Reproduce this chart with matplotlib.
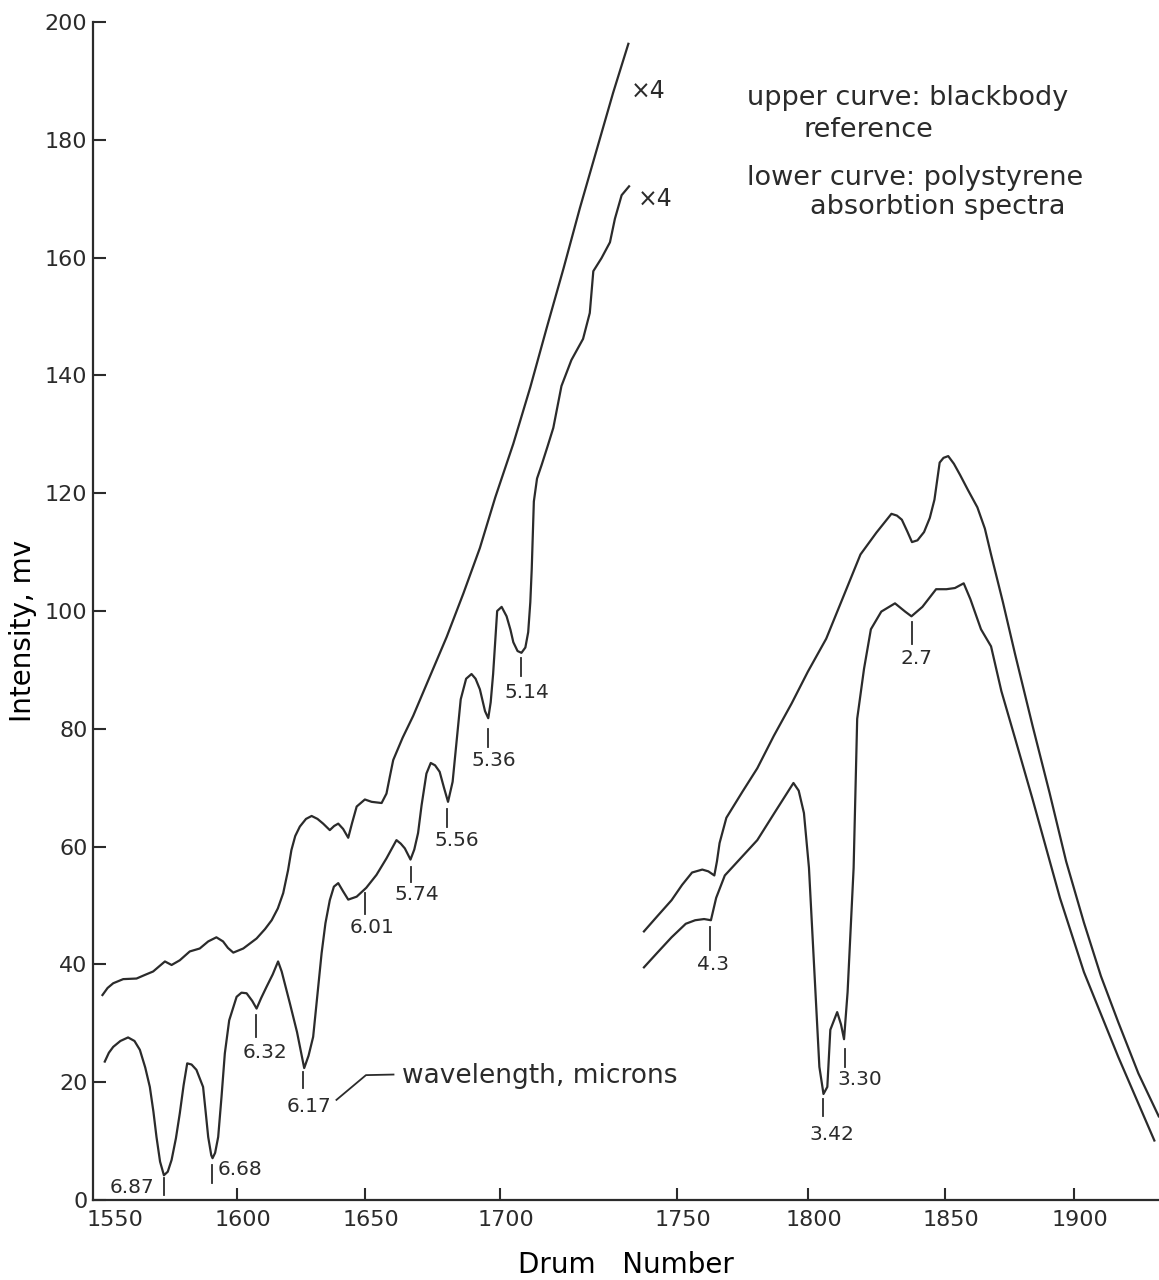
import numpy as np
import matplotlib
matplotlib.use("Agg")
import matplotlib.pyplot as plt
import matplotlib.transforms as mtransforms

# drum numbers / intensity (mv)
upper_left_x = [1547.5, 1549.5, 1551.7, 1555.6, 1560.8, 1564.0, 1567.3, 1570.0, 1571.9, 1574.5,
                1577.7, 1581.6, 1585.5, 1588.8, 1592.0, 1594.6, 1596.5, 1598.6, 1602.5, 1607.7,
                1611.0, 1613.6, 1616.0, 1618.1, 1620.0, 1621.3, 1622.8, 1624.6, 1627.0, 1629.2,
                1631.5, 1633.7, 1636.3, 1638.0, 1639.6, 1641.5, 1643.5, 1645.0, 1646.8, 1650.0,
                1652.5, 1656.2, 1658.0, 1659.3, 1660.5, 1664.0, 1667.9, 1674.0, 1680.3, 1686.5,
                1692.6, 1698.3, 1703.8, 1708.6, 1713.2, 1718.0, 1722.6, 1727.3, 1732.0, 1736.3]
upper_left_y = [34.8, 36.0, 36.8, 37.5, 37.6, 38.2, 38.8, 39.8, 40.5, 39.9,
                40.7, 42.2, 42.7, 43.9, 44.6, 43.9, 42.8, 42.0, 42.7, 44.4,
                46.0, 47.5, 49.5, 52.1, 56.0, 59.4, 61.8, 63.4, 64.7, 65.2,
                64.7, 63.9, 62.8, 63.5, 63.9, 63.0, 61.5, 64.0, 66.8, 68.0,
                67.6, 67.4, 69.0, 72.0, 74.7, 78.5, 82.2, 88.8, 95.6, 103.0,
                110.7, 119.3, 128.4, 138.0, 148.0, 158.2, 168.4, 178.2, 188.0, 196.3]

lower_left_x = [1548.4, 1550.0, 1551.7, 1554.5, 1557.5, 1560.0, 1562.1, 1564.2, 1566.0, 1567.4,
                1568.6, 1570.0, 1571.5, 1573.0, 1574.5, 1576.2, 1577.7, 1579.2, 1580.6, 1582.3,
                1584.2, 1586.8, 1587.8, 1588.8, 1590.0, 1590.5, 1591.5, 1592.7, 1594.0, 1595.3,
                1597.0, 1599.9, 1601.8, 1603.8, 1606.0, 1607.7, 1609.5, 1611.6, 1614.0, 1616.1,
                1617.5, 1620.7, 1623.5, 1626.3, 1628.0, 1629.8, 1631.5, 1633.1, 1634.6, 1636.3,
                1637.9, 1639.6, 1641.5, 1643.5, 1646.8, 1650.5, 1654.3, 1658.0, 1661.7, 1663.3,
                1664.8, 1666.9, 1668.3, 1669.7, 1671.0, 1672.8, 1674.4, 1676.0, 1677.7, 1679.3,
                1680.8, 1682.5, 1684.0, 1685.5, 1687.5, 1689.5, 1691.0, 1692.6, 1694.5, 1695.7,
                1696.6, 1697.5, 1698.3, 1699.0, 1700.5, 1701.9, 1703.0, 1703.8, 1705.0, 1706.1,
                1707.2, 1708.0, 1708.6, 1709.0, 1709.6, 1710.5, 1711.8, 1713.5, 1715.1, 1717.4,
                1720.2, 1723.5, 1725.4, 1726.4, 1728.7, 1731.1, 1732.5, 1734.4, 1736.5]
lower_left_y = [23.5, 25.0, 26.0, 27.0, 27.6, 27.0, 25.5, 22.5, 19.2, 15.0,
                10.7, 6.5, 4.2, 4.8, 6.8, 10.5, 14.7, 19.5, 23.2, 23.0,
                22.1, 19.2, 15.0, 10.7, 7.6, 7.1, 8.0, 10.7, 17.5, 24.9,
                30.5, 34.5, 35.2, 35.1, 33.8, 32.5, 34.3, 36.2, 38.3, 40.5,
                38.8, 33.4, 28.5, 22.4, 24.5, 27.7, 35.0, 41.9, 47.0, 50.9,
                53.2, 53.8, 52.4, 51.0, 51.5, 53.0, 55.2, 58.0, 61.1, 60.5,
                59.7, 57.8, 59.5, 62.3, 67.0, 72.4, 74.2, 73.8, 72.7, 70.0,
                67.6, 71.0, 78.0, 85.0, 88.5, 89.3, 88.5, 86.7, 83.0, 81.8,
                84.5, 89.3, 95.0, 100.0, 100.7, 99.1, 96.8, 94.7, 93.2, 92.9,
                93.8, 96.4, 101.5, 107.1, 118.6, 122.5, 124.8, 128.0, 131.1, 138.2,
                142.6, 146.2, 150.6, 157.7, 159.9, 162.6, 166.6, 170.6, 172.1]

upper_right_x = [1740.7, 1744.5, 1748.5, 1752.0, 1755.8, 1759.7, 1762.0, 1764.3, 1765.3, 1766.3,
                 1768.9, 1775.0, 1780.7, 1787.0, 1793.8, 1800.0, 1806.7, 1813.0, 1819.2, 1825.0,
                 1830.5, 1832.5, 1834.3, 1836.3, 1838.0, 1840.0, 1842.4, 1844.5, 1846.2, 1848.1,
                 1849.5, 1851.3, 1853.5, 1855.9, 1859.0, 1862.6, 1865.5, 1867.9, 1872.5, 1877.2,
                 1884.0, 1890.6, 1897.0, 1903.9, 1910.5, 1917.2, 1925.0, 1932.9]
upper_right_y = [45.6, 48.2, 50.9, 53.5, 55.6, 56.1, 55.8, 55.1, 57.5, 60.6,
                 64.9, 69.3, 73.3, 78.8, 84.3, 89.7, 95.3, 102.5, 109.6, 113.3,
                 116.5, 116.2, 115.5, 113.5, 111.7, 112.0, 113.4, 115.8, 118.9, 125.2,
                 126.0, 126.3, 125.0, 123.1, 120.5, 117.6, 114.0, 109.6, 101.5, 92.7,
                 80.5, 69.1, 57.5, 47.1, 38.0, 30.2, 21.5, 14.2]

lower_right_x = [1740.7, 1744.5, 1748.5, 1753.4, 1757.0, 1760.4, 1763.0, 1765.0, 1768.3, 1774.5,
                 1780.7, 1787.5, 1794.5, 1796.5, 1798.5, 1800.4, 1802.3, 1804.2, 1805.7, 1807.1,
                 1808.2, 1810.7, 1812.1, 1813.2, 1814.5, 1816.7, 1818.0, 1820.5, 1823.0, 1826.8,
                 1831.8, 1835.5, 1837.8, 1841.8, 1846.8, 1850.6, 1853.9, 1857.3, 1859.9, 1864.0,
                 1867.9, 1871.9, 1877.2, 1883.9, 1894.6, 1903.9, 1917.2, 1931.2]
lower_right_y = [39.5, 42.0, 44.6, 46.9, 47.5, 47.7, 47.5, 51.3, 55.1, 58.1,
                 61.1, 65.9, 70.8, 69.5, 65.7, 56.4, 39.5, 22.6, 18.0, 19.2,
                 28.9, 31.9, 29.8, 27.3, 35.3, 56.4, 81.7, 90.2, 96.9, 99.9,
                 101.3, 99.9, 99.1, 100.7, 103.7, 103.7, 103.9, 104.7, 102.0, 96.9,
                 94.0, 86.4, 78.4, 68.2, 51.3, 38.7, 24.3, 10.1]

# wavelength marks: label, tick x, tick top, tick bottom, text x, text y, ha
marks = [
    ("6.87", 1571.5, 3.7, 0.8, 1559.0, 2.2, "center"),
    ("6.68", 1590.1, 5.9, 2.9, 1592.4, 5.1, "left"),
    ("6.32", 1607.3, 31.4, 27.7, 1611.0, 25.0, "center"),
    ("6.17", 1625.8, 21.7, 19.0, 1628.1, 15.8, "center"),
    ("6.01", 1650.0, 52.1, 48.6, 1652.6, 46.3, "center"),
    ("5.74", 1667.2, 56.5, 54.0, 1669.2, 51.8, "center"),
    ("5.56", 1680.6, 66.4, 63.3, 1683.9, 61.1, "center"),
    ("5.36", 1695.6, 80.0, 76.9, 1697.8, 74.7, "center"),
    ("5.14", 1706.1, 92.0, 89.0, 1707.6, 86.2, "center"),
    ("4.3", 1762.8, 46.3, 42.4, 1763.8, 39.9, "center"),
    ("3.42", 1805.4, 17.1, 14.3, 1808.8, 11.2, "center"),
    ("3.30", 1813.5, 25.6, 22.6, 1818.9, 20.5, "center"),
    ("2.7", 1837.9, 98.2, 94.4, 1839.6, 91.9, "center"),
]

xticks = [1550, 1600, 1650, 1700, 1750, 1800, 1850, 1900]
yticks = list(range(0, 201, 20))

# the drum axis of the original is drawn unevenly, so map it piecewise
drum_ref = [1500, 1550, 1600, 1650, 1700, 1750, 1800, 1850, 1900, 2000]
pos_ref = [-19, 109, 237, 365, 500, 677, 808, 945, 1074, 1332]


def fwd(x):
    return np.interp(x, drum_ref, pos_ref)


def inv(p):
    return np.interp(p, pos_ref, drum_ref)


ink = "#2b2b2b"
plt.rcParams["font.family"] = ["DejaVu Sans"]
plt.rcParams["text.color"] = ink

fig = plt.figure(figsize=(11.59, 12.80), dpi=100)
ax = fig.add_axes([93 / 1159, 80 / 1280, 1066 / 1159, 1178 / 1280])
ax.set_xscale("function", functions=(fwd, inv))

for xs, ys in [(upper_left_x, upper_left_y), (lower_left_x, lower_left_y),
               (upper_right_x, upper_right_y), (lower_right_x, lower_right_y)]:
    ax.plot(xs, ys, color=ink, lw=1.6, solid_joinstyle="round", clip_on=False)

for lab, tx, t0, t1, lx, ly, ha in marks:
    ax.plot([tx, tx], [t0, t1], color=ink, lw=1.3)
    ax.text(lx, ly, lab, fontsize=14.5, ha=ha, va="center")

# leader for the wavelength note
ax.plot([1638.9, 1650.4, 1660.6], [17.0, 21.2, 21.3], color=ink, lw=1.3)
ax.text(1663.8, 21.0, "wavelength, microns", fontsize=19, ha="left", va="center")

ax.text(1741.8, 188.3, "×4", fontsize=17, ha="center", va="center")
ax.text(1743.8, 170.0, "×4", fontsize=17, ha="center", va="center")

fig.text(747 / 1159, 1 - 98 / 1280, "upper curve: blackbody", fontsize=19.5, va="center")
fig.text(803 / 1159, 1 - 130 / 1280, "reference", fontsize=19.5, va="center")
fig.text(747 / 1159, 1 - 178 / 1280, "lower curve: polystyrene", fontsize=19.5, va="center")
fig.text(810 / 1159, 1 - 207 / 1280, "absorbtion spectra", fontsize=19.5, va="center")

ax.set_xlim(1543.8, 1933)
ax.set_ylim(0, 200)
ax.set_xticks(xticks)
ax.set_yticks(yticks)
ax.spines["top"].set_visible(False)
ax.spines["right"].set_visible(False)
for s in ["left", "bottom"]:
    ax.spines[s].set_linewidth(1.6)
    ax.spines[s].set_color(ink)
ax.tick_params(direction="in", length=9, width=1.5, colors=ink, labelsize=16)
ax.tick_params(axis="x", pad=7)
ax.tick_params(axis="y", pad=4)
ax.xaxis.get_major_ticks()[0].tick1line.set_visible(False)
shift = mtransforms.ScaledTranslation(6 / 100, 0, fig.dpi_scale_trans)
for lab in ax.get_xticklabels():
    lab.set_transform(lab.get_transform() + shift)

ax.set_xlabel("Drum   Number", fontsize=20)
ax.set_ylabel("Intensity, mv", fontsize=20)
ax.xaxis.set_label_coords(0.5, -0.043)
ax.yaxis.set_label_coords(-0.053, 0.483)

fig.savefig("out.png", dpi=100)
